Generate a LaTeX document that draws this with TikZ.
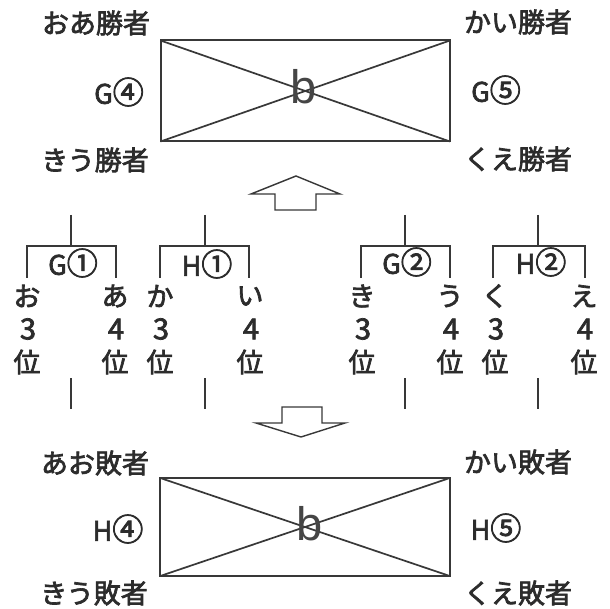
\documentclass[tikz,border=0pt]{standalone}
\usepackage{fontspec}
\setmainfont{Noto Sans CJK JP}
\newfontfamily\jpm{Noto Sans CJK JP}[FakeBold=2.5]
\newfontfamily\bfnt{Liberation Sans}
\newcommand{\cd}[1]{{\fontsize{31}{31}\selectfont #1}}
\definecolor{ink}{HTML}{383838}
\definecolor{txt}{HTML}{2c2c2c}
\definecolor{bgray}{HTML}{454545}
\begin{document}
\begin{tikzpicture}[x=1pt,y=-1pt,
  lbl/.style={text=txt, font=\jpm\fontsize{27}{27}\selectfont, inner sep=0pt},
  dig/.style={text=txt, font=\jpm\fontsize{29}{29}\selectfont, inner sep=0pt},
  bee/.style={text=bgray, font=\bfnt\fontsize{47}{47}\selectfont, inner sep=0pt},
  ln/.style={draw=ink, line width=1.8pt},
  dg/.style={draw=ink, line width=1.7pt},
  boxx/.style={draw=ink, line width=2pt, inner sep=0pt, outer sep=0pt, minimum width=289.5pt, minimum height=101pt},
  arr/.style={draw=ink, line width=1.4pt, line join=miter}]
\useasboundingbox (0,0) rectangle (610,609);
\fill[white] (0,0) rectangle (610,609);

% top box
\node[boxx] (box1) at (305.25,91) {};
\draw[dg] (box1.north west) -- (box1.south east);
\draw[dg] (box1.south west) -- (box1.north east);
\node[bee] (b1) at (304,87) {b};
\node[lbl] (w1) at (96,23) {おあ勝者};
\node[lbl] (w2) at (518,22) {かい勝者};
\node[lbl] (w3) at (119,92) {G\cd{④}};
\node[lbl] (w4) at (496,90) {G\cd{⑤}};
\node[lbl] (w5) at (95,160) {きう勝者};
\node[lbl] (w6) at (518,159) {くえ勝者};

% up arrow
\draw[arr] (275,210) -- (275,194) -- (251,194) -- (296,176) -- (340,194) -- (316,194) -- (316,210) -- cycle;

% brackets
\foreach \n/\sx/\lx/\rx in {g1/71/27/116, h1/205/160/249, g2/405/361/450, h2/538/493/585}{
  \coordinate (\n s) at (\sx,215);
  \coordinate (\n j) at (\sx,246);
  \coordinate (\n l) at (\lx,246);
  \coordinate (\n r) at (\rx,246);
  \coordinate (\n lb) at (\lx,278);
  \coordinate (\n rb) at (\rx,278);
  \draw[ln] (\n s) -- (\n j);
  \draw[ln] (\n lb) -- (\n l) -- (\n r) -- (\n rb);
  \coordinate (\n bt) at (\sx,378);
  \coordinate (\n bb) at (\sx,409);
  \draw[ln] (\n bt) -- (\n bb);
}
\node[lbl] (g1t) at (73,263) {G\cd{①}};
\node[lbl] (h1t) at (207,264) {H\cd{①}};
\node[lbl] (g2t) at (407,262) {G\cd{②}};
\node[lbl] (h2t) at (541,262) {H\cd{②}};

% members
\foreach \x/\a/\d [count=\i] in {27/お/3, 115/あ/4, 160/か/3, 250/い/4, 362/き/3, 450/う/4, 495/く/3, 584/え/4}{
  \node[lbl] (m\i) at (\x,296) {\a};
  \node[dig] (n\i) at (\x+1,329) {\d};
  \node[lbl] (p\i) at (\x,362) {位};
}

% down arrow
\draw[arr] (282,407) -- (322,407) -- (322,423) -- (345,423) -- (301,437) -- (256,423) -- (282,423) -- cycle;

% bottom box
\node[boxx, minimum height=98pt] (box2) at (305,527) {};
\draw[dg] (box2.north west) -- (box2.south east);
\draw[dg] (box2.south west) -- (box2.north east);
\node[bee] (b2) at (310,524) {b};
\node[lbl] (v1) at (95,463) {あお敗者};
\node[lbl] (v2) at (518,462) {かい敗者};
\node[lbl] (v3) at (118,529) {H\cd{④}};
\node[lbl] (v4) at (496,528) {H\cd{⑤}};
\node[lbl] (v5) at (94,593) {きう敗者};
\node[lbl] (v6) at (518,593) {くえ敗者};
\end{tikzpicture}
\end{document}
